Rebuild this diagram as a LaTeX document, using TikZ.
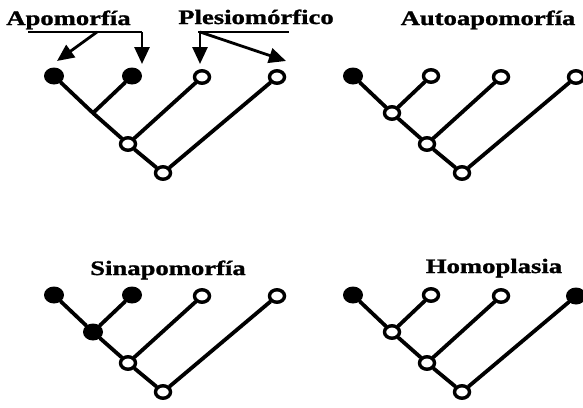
\documentclass[tikz,border=0pt]{standalone}
\usepackage{fontspec}
\setmainfont{Liberation Serif}
\newfontfamily\capfont{Liberation Serif}[
  UprightFont=*, BoldFont=* Bold,
  BoldFeatures={FakeBold=1.3, FakeStretch=1.3}]
\usetikzlibrary{shapes.geometric,arrows.meta}

\tikzset{
  caption/.style={anchor=base, inner sep=0pt,
    font=\capfont\fontsize{20.5}{20.5}\selectfont\bfseries},
  tipopen/.style={ellipse, draw, line width=3.4pt, fill=white,
    minimum width=15pt, minimum height=12.5pt, inner sep=0pt},
  tipfull/.style={ellipse, fill=black,
    minimum width=20pt, minimum height=17pt, inner sep=0pt},
  branch/.style={line width=3.8pt, line cap=round},
  pointer/.style={line width=2.8pt, -{Triangle[length=17pt,width=15pt]}},
  rule/.style={line width=2.8pt},
  knot/.style={circle, inner sep=0pt, minimum size=0pt},
}

% one cladogram: #1,#2 = offset; #3..#6 = leaf styles; #7 = inner junction; #8 = name prefix
\newcommand\clado[8]{%
  \begin{scope}[shift={(#1,#2)}]
    \node[#3] (#8l1) at (54,76) {};
    \node[#4] (#8l2) at (132,76) {};
    \node[#5] (#8l3) at (202,77) {};
    \node[#6] (#8l4) at (277,77) {};
    \node[#7] (#8j) at (93,113) {};
    \node[tipopen] (#8n) at (128,144) {};
    \node[tipopen] (#8r) at (163,173) {};
    \draw[branch] (#8l1) -- (#8j);
    \draw[branch] (#8l2) -- (#8j);
    \draw[branch] (#8j) -- (#8n);
    \draw[branch] (#8l3) -- (#8n);
    \draw[branch] (#8n) -- (#8r);
    \draw[branch] (#8l4) -- (#8r);
  \end{scope}}

\begin{document}
\begin{tikzpicture}[x=1pt,y=-1pt]
  \useasboundingbox (0,0) rectangle (583,407);
  \clip (0,0) rectangle (583,407);

  % trees
  \clado{0}{0}{tipfull}{tipfull}{tipopen}{tipopen}{knot}{a}
  \clado{299}{0}{tipfull}{tipopen}{tipopen}{tipopen}{tipopen}{b}
  \clado{0}{219}{tipfull}{tipfull}{tipopen}{tipopen}{tipfull}{c}
  \clado{299}{219}{tipfull}{tipopen}{tipopen}{tipfull}{tipopen}{d}

  % captions
  \node[caption] (apo) at (68.5,25) {Apomorfía};
  \node[caption] (ple) at (256,24) {Plesiomórfico};
  \node[caption] (aut) at (488,25) {Autoapomorfía};
  \node[caption] (sin) at (168,275) {Sinapomorfía};
  \node[caption] (hom) at (494,273) {Homoplasia};

  % pointers from the upper-left captions
  \coordinate (apoL) at (28,32);
  \coordinate (apoR) at (142,32);
  \coordinate (apoM) at (97,32);
  \coordinate (apoT1) at (57,61);
  \coordinate (apoT2) at (142,64);
  \draw[rule] (apoL) -- (apoR);
  \draw[pointer] (apoR) -- (apoT2);
  \draw[pointer] (apoM) -- (apoT1);

  \coordinate (pleL) at (198,32);
  \coordinate (pleR) at (289,32);
  \coordinate (pleS) at (200,32);
  \coordinate (pleT1) at (200,64);
  \coordinate (pleT2) at (286,61);
  \draw[rule] (pleL) -- (pleR);
  \draw[pointer] (pleS) -- (pleT1);
  \draw[pointer] (pleS) -- (pleT2);
\end{tikzpicture}
\end{document}
